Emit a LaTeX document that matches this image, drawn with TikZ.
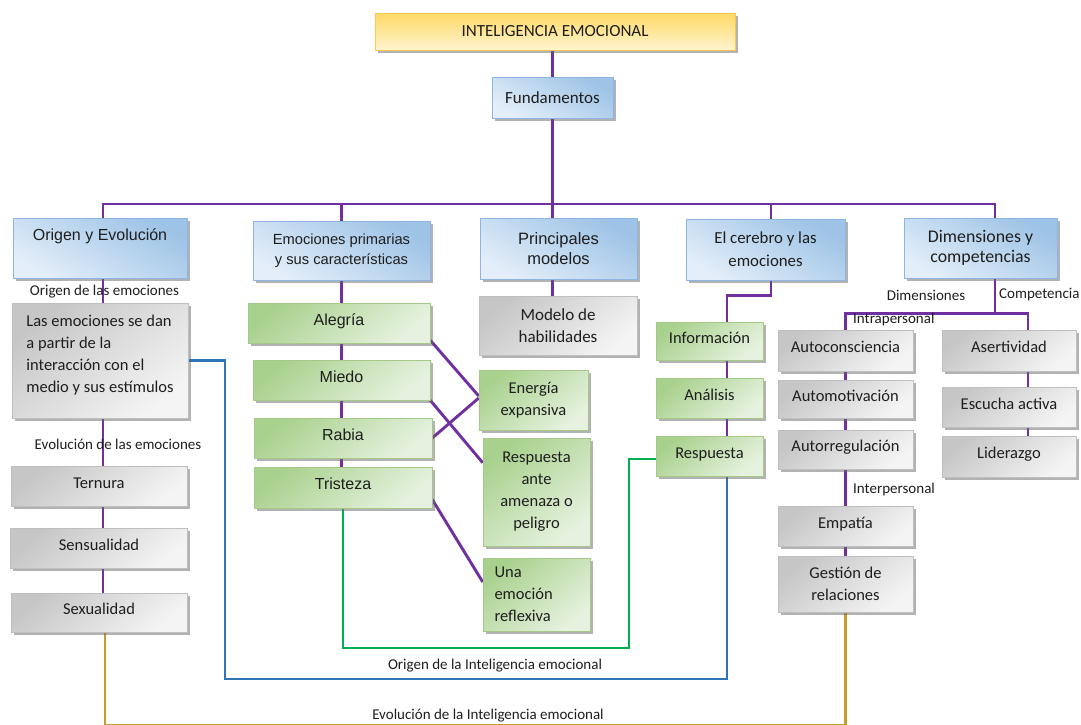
\documentclass[tikz,border=0pt]{standalone}
\usepackage{fontspec}
\setmainfont{Carlito}
\newfontfamily\arial{Liberation Sans}
\usetikzlibrary{shapes,arrows,positioning,calc,shadows,backgrounds}

\definecolor{morado}{HTML}{7030A0}
\definecolor{azullinea}{HTML}{2E75B6}
\definecolor{verdelinea}{HTML}{00B050}
\definecolor{oro}{HTML}{C99B2B}
\definecolor{azulA}{HTML}{9DC3E6}
\definecolor{azulB}{HTML}{E3EEF9}
\definecolor{azulborde}{HTML}{8EB4E3}
\definecolor{verdeA}{HTML}{A9D18E}
\definecolor{verdeB}{HTML}{E6F2DF}
\definecolor{verdeborde}{HTML}{A6C98A}
\definecolor{grisA}{HTML}{C6C6C6}
\definecolor{grisB}{HTML}{F4F4F4}
\definecolor{grisborde}{HTML}{BFBFBF}
\definecolor{amarilloA}{HTML}{FFD966}
\definecolor{amarilloB}{HTML}{FFF4CE}
\definecolor{texto}{HTML}{1E1E1E}

\newcommand{\letracaja}{\fontsize{16.5pt}{22pt}\selectfont}
\newcommand{\letraetiqueta}{\fontsize{15pt}{18pt}\selectfont}
\newcommand{\letraarial}[1]{\arial\fontsize{#1}{20pt}\selectfont}

\tikzstyle{caja} = [rectangle, line width=0.5pt, text=texto, align=center, inner sep=2pt, drop shadow={shadow xshift=2.5pt, shadow yshift=-2.5pt, fill=black!60, opacity=0.5}]
\tikzstyle{titulo} = [caja, draw=amarilloA!80!orange, top color=amarilloA, bottom color=amarilloB, font=\fontsize{17pt}{20pt}\selectfont]
\tikzstyle{azul} = [caja, draw=azulborde, top color=azulA, bottom color=azulB, shading angle=-30, font=\letracaja]
\tikzstyle{verde} = [caja, draw=verdeborde, top color=verdeA, bottom color=verdeB, shading angle=40, font=\letracaja]
\tikzstyle{gris} = [caja, draw=grisborde, top color=grisA, bottom color=grisB, shading angle=40, font=\letracaja]
\tikzstyle{unalinea} = [text height=11pt, text depth=7pt]
\tikzstyle{etiqueta} = [inner sep=0pt, text=texto, font=\letraetiqueta]
\tikzstyle{linea} = [morado, line width=2.9pt]
\tikzstyle{lineaazul} = [azullinea, line width=2.5pt]
\tikzstyle{lineaverde} = [verdelinea, line width=2.5pt]
\tikzstyle{lineaoro} = [oro, line width=2.9pt]

\begin{document}
\begin{tikzpicture}[x=1pt, y=-1pt]
\useasboundingbox (0,0) rectangle (1081,724);

% TITULO
\node (titulo) [titulo, minimum width=360pt, minimum height=37pt] at (555,31.5) {INTELIGENCIA EMOCIONAL};
\node (fundamentos) [azul, font=\fontsize{17pt}{20pt}\selectfont, minimum width=121pt, minimum height=41pt] at (552.5,97.5) {Fundamentos};

% RAMAS PRINCIPALES
\node (origen) [azul, font=\letraarial{16pt}, minimum width=174pt, minimum height=60pt, text height=12pt, text depth=28pt] at (100,248) {Origen y Evolución};
\node (primarias) [azul, font=\letraarial{14.7pt}, minimum width=177pt, minimum height=59pt] at (341.5,250.5) {Emociones primarias\\y sus características};
\node (principales) [azul, font=\letraarial{16.5pt}, minimum width=157pt, minimum height=61pt] at (558.5,248.5) {Principales\\modelos};
\node (cerebro) [azul, font=\fontsize{16.8pt}{23pt}\selectfont, minimum width=159pt, minimum height=61pt] at (765.5,249.5) {El cerebro y las\\emociones};
\node (dimensiones) [azul, font=\fontsize{17.8pt}{20pt}\selectfont, minimum width=153pt, minimum height=60pt] at (980.5,248) {Dimensiones y\\competencias};

% ORIGEN Y EVOLUCION
\node (lorigen) [etiqueta] at (104.5,292) {Origen de las emociones};
\node (textoorigen) [gris, align=left, text depth=14pt, minimum width=176pt, minimum height=115pt] at (100,360.5) {Las emociones se dan\\a partir de la\\interacción con el\\medio y sus estímulos};
\node (levolucion) [etiqueta] at (118,444) {Evolución de las emociones};
\node (ternura) [gris, unalinea, minimum width=176pt, minimum height=40pt] at (99,486) {Ternura};
\node (sensualidad) [gris, unalinea, minimum width=177pt, minimum height=40pt, below=22pt of ternura] {Sensualidad};
\node (sexualidad) [gris, unalinea, minimum width=176pt, minimum height=39pt, below=24pt of sensualidad] {Sexualidad};

% EMOCIONES PRIMARIAS
\node (alegria) [verde, unalinea, font=\letraarial{16pt}, minimum width=182pt, minimum height=40pt] at (339,323) {Alegría};
\node (miedo) [verde, unalinea, font=\letraarial{16pt}, minimum width=177pt, minimum height=40pt] at (341.5,380) {Miedo};
\node (rabia) [verde, unalinea, font=\letraarial{16pt}, minimum width=178pt, minimum height=40pt] at (343,438) {Rabia};
\node (tristeza) [verde, unalinea, font=\letraarial{16pt}, minimum width=178pt, minimum height=41pt] at (343,487.5) {Tristeza};
\node (energia) [verde, minimum width=109pt, minimum height=60pt] at (533.5,400) {Energía\\expansiva};
\node (amenaza) [verde, minimum width=107pt, minimum height=108pt] at (536.5,492) {Respuesta\\ante\\amenaza o\\peligro};
\node (reflexiva) [verde, align=left, text width=84pt, minimum width=107pt, minimum height=73pt] at (536.5,594.5) {Una\\emoción\\reflexiva};

% PRINCIPALES MODELOS
\node (modelo) [gris, font=\fontsize{17pt}{22pt}\selectfont, minimum width=158pt, minimum height=59pt] at (558,325.5) {Modelo de\\habilidades};

% EL CEREBRO
\node (informacion) [verde, unalinea, minimum width=107pt, minimum height=38pt] at (709.5,341) {Información};
\node (analisis) [verde, unalinea, minimum width=107pt, minimum height=40pt, below=18pt of informacion] {Análisis};
\node (respuesta) [verde, unalinea, minimum width=107pt, minimum height=40pt, below=17pt of analisis] {Respuesta};

% DIMENSIONES Y COMPETENCIAS
\node (ldimensiones) [etiqueta] at (926,295) {Dimensiones};
\node (lcompetencia) [etiqueta, anchor=west] at (999,295) {Competencia};
\node (autoconsciencia) [gris, unalinea, minimum width=135pt, minimum height=41pt] at (845.5,350.5) {Autoconsciencia};
\node (automotivacion) [gris, unalinea, minimum width=135pt, minimum height=38pt, below=9pt of autoconsciencia] {Automotivación};
\node (autorregulacion) [gris, unalinea, minimum width=135pt, minimum height=39pt, below=11pt of automotivacion] {Autorregulación};
\node (empatia) [gris, unalinea, minimum width=135pt, minimum height=40pt, below=37pt of autorregulacion] {Empatía};
\node (gestion) [gris, minimum width=135pt, minimum height=56pt, below=9pt of empatia] {Gestión de\\relaciones};
\node (lintra) [etiqueta, anchor=west] at (853,319) {Intrapersonal};
\node (linter) [etiqueta, anchor=west] at (853,489) {Interpersonal};
\node (asertividad) [gris, unalinea, minimum width=134pt, minimum height=41pt] at (1009,350.5) {Asertividad};
\node (escucha) [gris, unalinea, minimum width=134pt, minimum height=40pt, below=16pt of asertividad] {Escucha activa};
\node (liderazgo) [gris, unalinea, minimum width=134pt, minimum height=41pt, below=8pt of escucha] {Liderazgo};

% ETIQUETAS ABAJO
\node (lorigenie) [etiqueta] at (495,666) {Origen de la Inteligencia emocional};
\node (levolucionie) [etiqueta] at (488,716) {Evolución de la Inteligencia emocional};

% LINEAS (detras de las cajas)
\begin{scope}[on background layer]
\coordinate (barra) at (552.5,204);
\draw [linea] (titulo.south -| fundamentos) -- (fundamentos) -- (barra);
\draw [linea] ([xshift=3pt]origen.north) |- (barra) -| ([xshift=14.5pt]dimensiones.north);
\draw [linea] (primarias.north) |- (barra);
\draw [linea] (barra) -- (barra |- principales.north);
\draw [linea] ([xshift=5.5pt]cerebro.north) |- (barra);

% origen y evolucion
\coordinate (o1) at ([xshift=3pt]origen.south);
\draw [linea] (o1) -- (o1 |- sexualidad.north);
\coordinate (suelo) at (480,725.5);
\draw [lineaoro] ([xshift=6pt]sexualidad.south) |- (suelo) -| (gestion.south);
\coordinate (esqazul) at (225,679);
\draw [lineaazul] (textoorigen.east) -| (esqazul) -| ([xshift=17.5pt]respuesta.south);

% emociones primarias
\draw [linea] (primarias.south) -- (primarias.south |- tristeza.north);
\draw [linea] ([yshift=3pt]alegria.south east) -- ([yshift=4pt]energia.west);
\draw [linea] (miedo.south east) -- ([yshift=-25pt]amenaza.north west);
\draw [linea] (rabia.east) -- ([yshift=2pt]energia.west);
\draw [linea] ([yshift=-12pt]tristeza.east) -- ([yshift=12.5pt]reflexiva.west);
\coordinate (esqverde) at (629,648);
\draw [lineaverde] (tristeza.south) |- (esqverde) |- ([yshift=-3pt]respuesta.west);

% modelos y cerebro
\draw [linea] (barra |- principales.south) -- (barra |- modelo.north);
\coordinate (c1) at ([xshift=5.5pt]cerebro.south);
\coordinate (c2) at ([xshift=17.5pt]informacion.north);
\draw [linea] (c1) -- ++(0,15) -| (c2);
\coordinate (c3) at ([xshift=17.5pt]informacion.south);
\draw [linea] (c3) -- (c3 |- respuesta.north);

% dimensiones
\draw [linea] ([xshift=14.5pt]dimensiones.south) -- ++(0,35) coordinate (nudo);
\draw [linea] (autoconsciencia.north) |- (nudo) -| ([xshift=19pt]asertividad.north);
\draw [linea] (autoconsciencia) -- (gestion);
\coordinate (a1) at ([xshift=19pt]asertividad.south);
\draw [linea] (a1) -- (a1 |- liderazgo.north);
\end{scope}

\end{tikzpicture}
\end{document}
